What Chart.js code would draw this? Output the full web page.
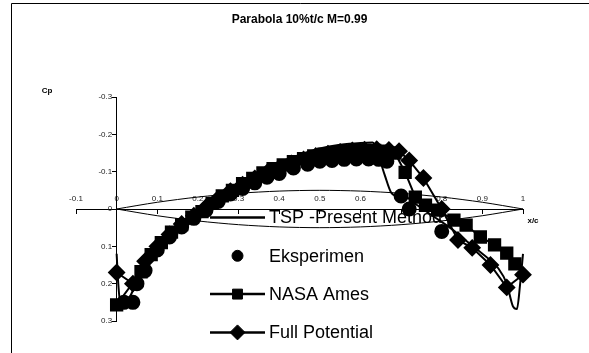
<!DOCTYPE html>
<html>
<head>
<meta charset="utf-8">
<script src="https://cdn.jsdelivr.net/npm/chart.js@4.4.1/dist/chart.umd.min.js"></script>
<style>
  html, body { margin: 0; padding: 0; background: #fff; }
  canvas { display: block; }
</style>
</head>
<body>
<canvas id="cpChart" width="589" height="353"></canvas>
<script>
// Parabola 10% t/c, M = 0.99 -- Cp along the chord
const xTicks = [-0.1, 0, 0.1, 0.2, 0.3, 0.4, 0.5, 0.6, 0.7, 0.8, 0.9, 1];
const cpTicks = [-0.3, -0.2, -0.1, 0, 0.1, 0.2, 0.3];

// airfoil outline (drawn in Cp units, as in the original sheet)
const airX = [0, 0.1, 0.2, 0.3, 0.4, 0.5, 0.6, 0.7, 0.8, 0.9, 1];
const airUpper = [0, -0.018, -0.032, -0.042, -0.048, -0.05, -0.048, -0.042, -0.032, -0.018, 0];
const airLower = [0, 0.018, 0.032, 0.042, 0.048, 0.05, 0.048, 0.042, 0.032, 0.018, 0];

const tspX = [0, 0.004, 0.01, 0.03, 0.06, 0.1, 0.15, 0.2, 0.25, 0.3, 0.35, 0.4, 0.45, 0.5, 0.55, 0.6, 0.63,
    0.645, 0.66, 0.675, 0.69, 0.71, 0.74, 0.78, 0.82, 0.86, 0.9, 0.94, 0.96, 0.975, 0.985, 0.993, 1];
const tspCp = [0.12, 0.2, 0.26, 0.24, 0.17, 0.105, 0.05, 0.005, -0.035, -0.07, -0.1, -0.125, -0.145, -0.162, -0.172, -0.177, -0.178,
    -0.14, -0.09, -0.045, -0.035, -0.033, -0.01, 0.02, 0.05, 0.085, 0.12, 0.16, 0.2, 0.26, 0.268, 0.2, 0.12];

const expX = [0.018, 0.04, 0.05, 0.07, 0.1, 0.13, 0.16, 0.19, 0.22, 0.25, 0.28, 0.31, 0.34, 0.37, 0.4, 0.435,
    0.47, 0.5, 0.53, 0.56, 0.59, 0.62, 0.645, 0.665, 0.7, 0.72, 0.8];
const expCp = [0.25, 0.25, 0.2, 0.165, 0.11, 0.075, 0.048, 0.025, 0.003, -0.02, -0.04, -0.055, -0.07, -0.085, -0.095, -0.11,
    -0.12, -0.128, -0.13, -0.133, -0.134, -0.134, -0.133, -0.128, -0.035, 0.0, 0.06];

const nasaX = [0, 0.06, 0.085, 0.11, 0.135, 0.16, 0.185, 0.21, 0.235, 0.26, 0.285, 0.31, 0.335, 0.36, 0.385, 0.41,
    0.435, 0.46, 0.485, 0.51, 0.535, 0.56, 0.585, 0.61, 0.635, 0.66, 0.685, 0.71, 0.735, 0.76, 0.79, 0.83,
    0.86, 0.895, 0.93, 0.96, 0.98];
const nasaCp = [0.257, 0.168, 0.122, 0.09, 0.062, 0.042, 0.022, 0.007, -0.015, -0.035, -0.05, -0.068, -0.082, -0.097, -0.108, -0.118,
    -0.127, -0.135, -0.142, -0.147, -0.151, -0.154, -0.156, -0.157, -0.157, -0.155, -0.15, -0.098, -0.032, -0.01, 0.003, 0.03,
    0.043, 0.075, 0.096, 0.118, 0.147];

const fpX = [0, 0.04, 0.07, 0.1, 0.13, 0.16, 0.19, 0.22, 0.25, 0.28, 0.31, 0.34, 0.37, 0.4, 0.43, 0.46,
    0.49, 0.52, 0.55, 0.58, 0.61, 0.64, 0.67, 0.695, 0.72, 0.755, 0.8, 0.84, 0.875, 0.92, 0.96, 1];
const fpCp = [0.17, 0.2, 0.14, 0.1, 0.068, 0.04, 0.018, -0.005, -0.028, -0.048, -0.065, -0.082, -0.097, -0.11, -0.122, -0.133,
    -0.142, -0.148, -0.153, -0.157, -0.159, -0.16, -0.158, -0.155, -0.13, -0.083, 0.0, 0.083, 0.104, 0.15, 0.21, 0.176];

const legendLabels = ['TSP -Present Method', 'Eksperimen', 'NASA Ames', 'Full Potential'];

const FONT = '"Liberation Sans", Arial, sans-serif';
Chart.defaults.font.family = FONT;
Chart.defaults.color = '#000';

const toPoints = (xs, ys) => xs.map((x, i) => ({x: x, y: ys[i]}));
const fmt = (v) => String(Number(v.toFixed(1)));

// frame, axis names and the legend that sits over the plot
const decorPlugin = {
    id: 'decor',
    beforeDraw(chart) {
        const ctx = chart.ctx;
        ctx.save();
        ctx.strokeStyle = '#000';
        ctx.lineWidth = 1;
        ctx.beginPath();
        ctx.moveTo(11.5, 353);
        ctx.lineTo(11.5, 3.5);
        ctx.lineTo(589, 3.5);
        ctx.stroke();
        ctx.restore();
    },
    afterDraw(chart) {
        const ctx = chart.ctx;
        ctx.save();
        ctx.fillStyle = '#000';
        ctx.font = 'bold 8px ' + FONT;
        ctx.textAlign = 'center';
        ctx.textBaseline = 'middle';
        ctx.fillText('Cp', 47, 91);
        ctx.fillText('x/c', 533, 221);

        // legend
        const styles = [null, 'circle', 'rect', 'rectRot'];
        const showLine = [true, false, true, true];
        const radius = [0, 5.5, 7, 7.5];
        ctx.font = '18px ' + FONT;
        ctx.textAlign = 'left';
        legendLabels.forEach((label, i) => {
            const y = 217.5 + i * 38.3;
            if (showLine[i]) {
                ctx.strokeStyle = '#000';
                ctx.lineWidth = 2.5;
                ctx.beginPath();
                ctx.moveTo(210, y);
                ctx.lineTo(265, y);
                ctx.stroke();
            }
            if (styles[i]) {
                ctx.fillStyle = '#000';
                ctx.strokeStyle = '#000';
                ctx.lineWidth = 1;
                Chart.helpers.drawPoint(ctx, {pointStyle: styles[i], radius: radius[i], borderWidth: 1}, 237.5, y);
            }
            ctx.fillStyle = '#000';
            ctx.fillText(label, 269, y + 1);
        });
        ctx.restore();
    }
};

const lineSet = (label, data, extra) => Object.assign({
    label: label,
    data: data,
    borderColor: '#000',
    backgroundColor: '#000',
    pointBackgroundColor: '#000',
    pointBorderColor: '#000',
    showLine: true,
    borderWidth: 2,
    pointRadius: 0,
    clip: false
}, extra);

new Chart(document.getElementById('cpChart'), {
    type: 'scatter',
    data: {
        datasets: [
            lineSet('TSP -Present Method', toPoints(tspX, tspCp), {cubicInterpolationMode: 'monotone'}),
            lineSet('Eksperimen', toPoints(expX, expCp), {showLine: false, pointStyle: 'circle', pointRadius: 6.5}),
            lineSet('NASA Ames', toPoints(nasaX, nasaCp), {pointStyle: 'rect', pointRadius: 8}),
            lineSet('Full Potential', toPoints(fpX, fpCp), {pointStyle: 'rectRot', pointRadius: 7.5}),
            lineSet('upper', toPoints(airX, airUpper), {borderWidth: 1, tension: 0.3}),
            lineSet('lower', toPoints(airX, airLower), {borderWidth: 1, tension: 0.3})
        ]
    },
    options: {
        responsive: false,
        animation: false,
        devicePixelRatio: 1,
        layout: {padding: {left: 76, right: 66, top: 0, bottom: 32}},
        plugins: {
            legend: {display: false},
            tooltip: {enabled: false},
            title: {
                display: true,
                text: 'Parabola 10%t/c M=0.99',
                color: '#000',
                font: {size: 12, weight: 'bold', family: FONT},
                padding: {top: 12, bottom: 70.6}
            }
        },
        scales: {
            x: {
                type: 'linear',
                position: {y: 0},
                min: -0.1,
                max: 1,
                afterBuildTicks: (axis) => { axis.ticks = xTicks.map(v => ({value: v})); },
                grid: {display: true, drawOnChartArea: false, drawTicks: true, tickLength: 4, color: '#000'},
                border: {display: true, color: '#000', width: 1},
                ticks: {
                    font: {size: 8},
                    color: '#222',
                    padding: -19,
                    maxRotation: 0,
                    autoSkip: false,
                    callback: (v) => fmt(v)
                }
            },
            y: {
                type: 'linear',
                position: {x: 0},
                reverse: true,
                min: -0.3,
                max: 0.3,
                afterBuildTicks: (axis) => { axis.ticks = cpTicks.map(v => ({value: v})); },
                grid: {display: true, drawOnChartArea: false, drawTicks: true, tickLength: 4, color: '#000'},
                border: {display: true, color: '#000', width: 1},
                ticks: {
                    font: {size: 8},
                    color: '#222',
                    autoSkip: false,
                    callback: (v) => fmt(v) + '  '
                }
            }
        }
    },
    plugins: [decorPlugin]
});
</script>
</body>
</html>
